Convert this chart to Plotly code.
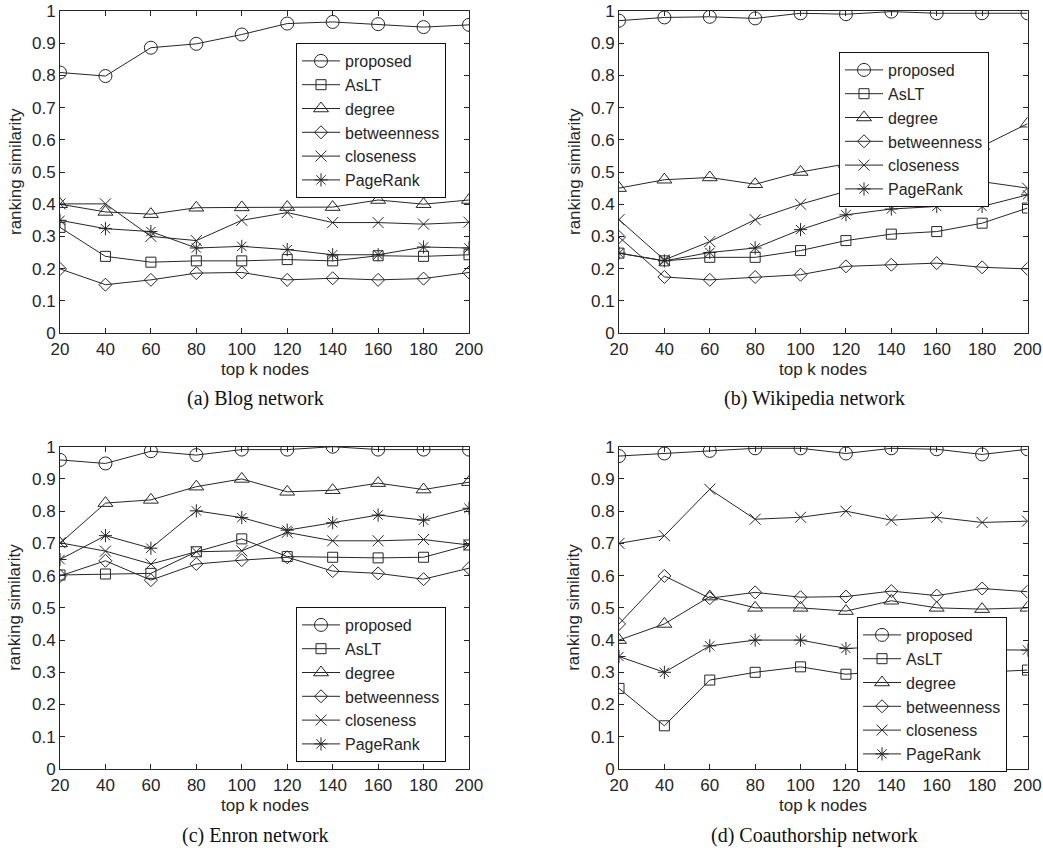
import plotly.graph_objects as go

k_nodes = [20, 40, 60, 80, 100, 120, 140, 160, 180, 200]
methods = ["proposed", "AsLT", "degree", "betweenness", "closeness", "PageRank"]

# (a) Blog network
blog_proposed = [0.809, 0.798, 0.886, 0.898, 0.927, 0.961, 0.966, 0.959, 0.950, 0.957]
blog_aslt = [0.328, 0.238, 0.220, 0.224, 0.224, 0.228, 0.224, 0.240, 0.238, 0.243]
blog_degree = [0.400, 0.376, 0.369, 0.389, 0.390, 0.391, 0.391, 0.413, 0.400, 0.413]
blog_betweenness = [0.199, 0.150, 0.165, 0.186, 0.188, 0.165, 0.170, 0.165, 0.169, 0.188]
blog_closeness = [0.401, 0.401, 0.300, 0.287, 0.350, 0.374, 0.343, 0.343, 0.338, 0.344]
blog_pagerank = [0.350, 0.324, 0.315, 0.264, 0.269, 0.259, 0.243, 0.243, 0.267, 0.264]

# (b) Wikipedia network
wiki_proposed = [0.970, 0.980, 0.982, 0.977, 0.993, 0.990, 0.998, 0.993, 0.993, 0.993]
wiki_aslt = [0.248, 0.224, 0.235, 0.235, 0.256, 0.287, 0.307, 0.315, 0.341, 0.388]
wiki_degree = [0.450, 0.476, 0.483, 0.462, 0.500, 0.525, 0.540, 0.560, 0.580, 0.650]
wiki_betweenness = [0.298, 0.174, 0.165, 0.174, 0.181, 0.207, 0.212, 0.217, 0.204, 0.199]
wiki_closeness = [0.352, 0.227, 0.284, 0.352, 0.400, 0.440, 0.460, 0.470, 0.470, 0.450]
wiki_pagerank = [0.248, 0.224, 0.250, 0.264, 0.321, 0.367, 0.385, 0.393, 0.393, 0.429]

# (c) Enron network
enron_proposed = [0.959, 0.948, 0.986, 0.974, 0.991, 0.991, 1.000, 0.991, 0.991, 0.991]
enron_aslt = [0.602, 0.605, 0.607, 0.674, 0.714, 0.659, 0.657, 0.655, 0.657, 0.695]
enron_degree = [0.700, 0.825, 0.835, 0.876, 0.900, 0.860, 0.865, 0.887, 0.867, 0.890]
enron_betweenness = [0.599, 0.646, 0.586, 0.636, 0.648, 0.657, 0.614, 0.607, 0.589, 0.623]
enron_closeness = [0.702, 0.676, 0.636, 0.674, 0.677, 0.734, 0.708, 0.708, 0.712, 0.695]
enron_pagerank = [0.650, 0.724, 0.685, 0.801, 0.780, 0.741, 0.764, 0.788, 0.772, 0.809]

# (d) Coauthorship network
coau_proposed = [0.971, 0.979, 0.987, 0.995, 0.995, 0.979, 0.995, 0.992, 0.976, 0.992]
coau_aslt = [0.250, 0.134, 0.276, 0.300, 0.317, 0.294, 0.305, 0.300, 0.300, 0.307]
coau_degree = [0.400, 0.450, 0.535, 0.500, 0.500, 0.490, 0.522, 0.500, 0.496, 0.500]
coau_betweenness = [0.450, 0.599, 0.530, 0.548, 0.533, 0.535, 0.552, 0.538, 0.560, 0.550]
coau_closeness = [0.700, 0.724, 0.868, 0.775, 0.781, 0.800, 0.772, 0.781, 0.765, 0.769]
coau_pagerank = [0.349, 0.300, 0.382, 0.400, 0.400, 0.374, 0.380, 0.370, 0.370, 0.369]

y_ticks = [0, 0.1, 0.2, 0.3, 0.4, 0.5, 0.6, 0.7, 0.8, 0.9, 1]
y_tick_text = ["0", "0.1", "0.2", "0.3", "0.4", "0.5", "0.6", "0.7", "0.8", "0.9", "1"]
captions = ["(a) Blog network", "(b) Wikipedia network", "(c) Enron network", "(d) Coauthorship network"]

panels = [
    [blog_proposed, blog_aslt, blog_degree, blog_betweenness, blog_closeness, blog_pagerank],
    [wiki_proposed, wiki_aslt, wiki_degree, wiki_betweenness, wiki_closeness, wiki_pagerank],
    [enron_proposed, enron_aslt, enron_degree, enron_betweenness, enron_closeness, enron_pagerank],
    [coau_proposed, coau_aslt, coau_degree, coau_betweenness, coau_closeness, coau_pagerank],
]

W, H = 1043, 852
INK = "#262626"
SANS = "Liberation Sans, Arial, Helvetica, sans-serif"
SERIF = "Liberation Serif, Times New Roman, serif"

symbols = ["circle-open", "square-open", "triangle-up-open", "diamond-open", "x-thin-open", "asterisk-open"]
sizes = [13, 10, 13, 10, 11, 11]

# plot-area pixel boxes (left, right, top, bottom)
boxes = [(60, 469, 11, 333), (619, 1027.5, 11, 333), (60, 469, 446.7, 769), (619, 1027.5, 446.7, 769)]
legend_pos = [(296, 43), (839, 52), (296, 607), (857, 617)]
caption_x = [255, 814, 255, 814]
caption_y = [399, 399, 835, 835]

fig = go.Figure()
layout = dict(
    width=W, height=H, margin=dict(l=0, r=0, t=0, b=0),
    paper_bgcolor="white", plot_bgcolor="white",
    font=dict(family=SANS, size=17, color=INK),
    showlegend=True, annotations=[],
)

for p, series in enumerate(panels):
    n = "" if p == 0 else str(p + 1)
    leg = "legend" if p == 0 else "legend" + str(p + 1)
    for m, name in enumerate(methods):
        fig.add_trace(go.Scatter(
            x=k_nodes, y=series[m], name=name, mode="lines+markers",
            xaxis="x" + n, yaxis="y" + n, legend=leg,
            line=dict(color=INK, width=1),
            marker=dict(symbol=symbols[m], size=sizes[m], color=INK,
                        line=dict(color=INK, width=1)),
        ))
    l, r, t, b = boxes[p]
    layout["xaxis" + n] = dict(
        domain=[l / W, r / W], anchor="y" + n, range=[20, 200],
        tickvals=k_nodes, ticks="inside", ticklen=5, tickcolor=INK,
        showline=True, linecolor=INK, linewidth=1, mirror="ticks",
        showgrid=False, zeroline=False, automargin=False, ticklabelstandoff=1,
        tickfont=dict(family=SANS, size=17, color=INK),
    )
    layout["yaxis" + n] = dict(
        domain=[1 - b / H, 1 - t / H], anchor="x" + n, range=[0, 1],
        tickvals=y_ticks, ticktext=y_tick_text, ticks="inside", ticklen=5,
        tickcolor=INK, showline=True, linecolor=INK, linewidth=1, mirror="ticks",
        showgrid=False, zeroline=False, automargin=False,
        tickfont=dict(family=SANS, size=17, color=INK),
    )
    lx, ly = legend_pos[p]
    layout[leg] = dict(
        x=lx / W, y=1 - ly / H, xanchor="left", yanchor="top",
        bgcolor="white", bordercolor="#111111", borderwidth=1,
        font=dict(family=SANS, size=16, color=INK), itemwidth=38,
        tracegroupgap=0,
    )
    cx = (l + r) / 2
    layout["annotations"].append(dict(
        text="top k nodes", x=cx / W, y=1 - (b + 36) / H, xref="paper", yref="paper",
        showarrow=False, xanchor="center", yanchor="middle",
        font=dict(family=SANS, size=17, color=INK)))
    layout["annotations"].append(dict(
        text="ranking similarity", x=(l - 45) / W, y=1 - ((t + b) / 2) / H,
        xref="paper", yref="paper", showarrow=False, textangle=-90,
        xanchor="center", yanchor="middle",
        font=dict(family=SANS, size=17, color=INK)))
    layout["annotations"].append(dict(
        text=captions[p], x=caption_x[p] / W, y=1 - caption_y[p] / H,
        xref="paper", yref="paper", showarrow=False,
        xanchor="center", yanchor="middle",
        font=dict(family=SERIF, size=20, color="#111111")))

fig.update_layout(**layout)
fig.write_html("out.html")
